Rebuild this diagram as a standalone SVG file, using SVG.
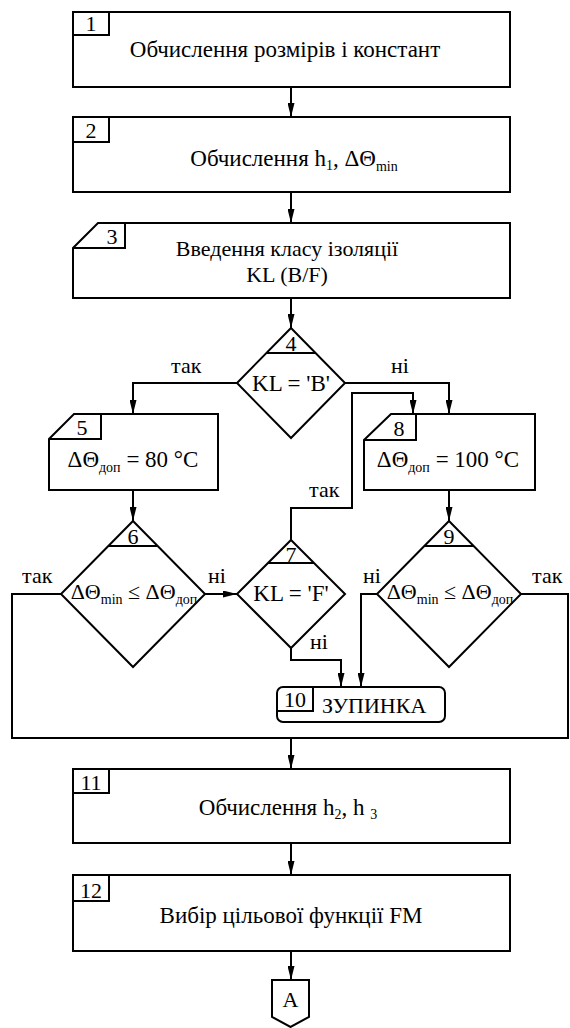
<svg xmlns="http://www.w3.org/2000/svg" width="570" height="1028" viewBox="0 0 570 1028">
<defs>
<style>
.s{fill:#fff;stroke:#000;stroke-width:2}
.n{fill:none;stroke:#000;stroke-width:2}
.c{fill:none;stroke:#000;stroke-width:2}
text{font-family:"Liberation Serif","Times New Roman",serif;fill:#000}
.t{font-size:23px;text-anchor:middle}
.t2{font-size:22px;text-anchor:middle}
.d{font-size:22px;text-anchor:middle}
.num{font-size:22px;text-anchor:middle}
.lb{font-size:22px}
.sub{font-size:14px}
</style>
<marker id="ah" markerWidth="14" markerHeight="7" refX="14" refY="3.5" orient="auto" markerUnits="userSpaceOnUse"><path d="M0,0 L14,3.5 L0,7 Z" fill="#000"/></marker>
</defs>
<rect width="570" height="1028" fill="#fff"/>
<g id="connectors">
<path class="c" d="M291,87 V117" marker-end="url(#ah)"/>
<path class="c" d="M291,192 V223" marker-end="url(#ah)"/>
<path class="c" d="M291,298 V328" marker-end="url(#ah)"/>
<path class="c" d="M237,383 H133 V414" marker-end="url(#ah)"/>
<path class="c" d="M345,383 H449 V414" marker-end="url(#ah)"/>
<path class="c" d="M133,490 V521" marker-end="url(#ah)"/>
<path class="c" d="M449,490 V521" marker-end="url(#ah)"/>
<path class="c" d="M205,594 H237" marker-end="url(#ah)"/>
<path class="c" d="M291,540 V508 H352 V393 H413 V414" marker-end="url(#ah)"/>
<path class="c" d="M291,648 V660 H341 V687" marker-end="url(#ah)"/>
<path class="c" d="M377,594 H361 V687" marker-end="url(#ah)"/>
<path class="c" d="M61,594 H12 V738 H568 V594 H521"/>
<path class="c" d="M291,738 V769" marker-end="url(#ah)"/>
<path class="c" d="M291,843 V875" marker-end="url(#ah)"/>
<path class="c" d="M291,951 V980" marker-end="url(#ah)"/>
<text class="lb" x="171" y="373">так</text>
<text class="lb" x="391" y="373">ні</text>
<text class="lb" x="309" y="497">так</text>
<text class="lb" x="22" y="583">так</text>
<text class="lb" x="208" y="583">ні</text>
<text class="lb" x="363" y="583">ні</text>
<text class="lb" x="532" y="583">так</text>
<text class="lb" x="310" y="649">ні</text>
</g>
<g id="n1">
<rect class="s" x="73" y="12" width="437" height="75"/>
<path class="n" d="M73,35 H109 V12"/>
<text class="num" x="91" y="31">1</text>
<text class="t" x="285" y="57">Обчислення розмірів і констант</text>
</g>
<g id="n2">
<rect class="s" x="73" y="117" width="437" height="75"/>
<path class="n" d="M73,142 H109 V117"/>
<text class="num" x="91" y="138">2</text>
<text class="t" x="294" y="166">Обчислення h<tspan class="sub" dy="4">1</tspan><tspan dy="-4">, ΔΘ</tspan><tspan class="sub" dy="5">min</tspan></text>
</g>
<g id="n3">
<path class="s" d="M73,248 L98,223 H510 V298 H73 Z"/>
<path class="n" d="M73,248 H125 V223"/>
<text class="num" x="112" y="244">3</text>
<text class="t2" x="287" y="256">Введення класу ізоляції</text>
<text class="t2" x="287" y="282">KL (B/F)</text>
</g>
<g id="n4">
<path class="s" d="M291,328 L345,383 L291,438 L237,383 Z"/>
<path class="n" d="M266.5,353 H315.5"/>
<text class="num" x="291" y="351">4</text>
<text class="t" x="291" y="391">KL = 'B'</text>
</g>
<g id="n5">
<path class="s" d="M49,439 L74,414 H218 V490 H49 Z"/>
<path class="n" d="M49,439 H101 V414"/>
<text class="num" x="82" y="435">5</text>
<text class="t" x="133" y="467">ΔΘ<tspan class="sub" dy="5">доп</tspan><tspan dy="-5"> = 80 °C</tspan></text>
</g>
<g id="n8">
<path class="s" d="M364,440 L391,414 H535 V490 H364 Z"/>
<path class="n" d="M364,440 H416 V414"/>
<text class="num" x="399" y="436">8</text>
<text class="t" x="448" y="467">ΔΘ<tspan class="sub" dy="5">доп</tspan><tspan dy="-5"> = 100 °C</tspan></text>
</g>
<g id="n6">
<path class="s" d="M133,521 L205,594 L133,667 L61,594 Z"/>
<path class="n" d="M108.3,546 H157.7"/>
<text class="num" x="133" y="544">6</text>
<text class="d" x="134" y="599">ΔΘ<tspan class="sub" dy="5">min</tspan><tspan dy="-5"> ≤ ΔΘ</tspan><tspan class="sub" dy="5">доп</tspan></text>
</g>
<g id="n7">
<path class="s" d="M291,540 L345,594 L291,648 L237,594 Z"/>
<path class="n" d="M268,563 H314"/>
<text class="num" x="291" y="562">7</text>
<text class="t" x="291" y="601">KL = 'F'</text>
</g>
<g id="n9">
<path class="s" d="M449,521 L521,594 L449,667 L377,594 Z"/>
<path class="n" d="M424.3,546 H473.7"/>
<text class="num" x="449" y="544">9</text>
<text class="d" x="450" y="599">ΔΘ<tspan class="sub" dy="5">min</tspan><tspan dy="-5"> ≤ ΔΘ</tspan><tspan class="sub" dy="5">доп</tspan></text>
</g>
<g id="n10">
<rect class="s" x="277" y="687" width="168" height="35" rx="6"/>
<path class="n" d="M277,711 H313 V687"/>
<text class="num" x="295" y="707">10</text>
<text class="lb" x="322" y="713">ЗУПИНКА</text>
</g>
<g id="n11">
<rect class="s" x="73" y="769" width="437" height="74"/>
<path class="n" d="M73,793 H109 V769"/>
<text class="num" x="91" y="790">11</text>
<text class="t" x="288" y="815">Обчислення h<tspan class="sub" dy="4">2</tspan><tspan dy="-4">, h </tspan><tspan class="sub" dy="4">3</tspan></text>
</g>
<g id="n12">
<rect class="s" x="73" y="875" width="437" height="76"/>
<path class="n" d="M73,901 H109 V875"/>
<text class="num" x="91" y="898">12</text>
<text class="t" x="291" y="923">Вибір цільової функції FM</text>
</g>
<g id="nA">
<path class="s" d="M272,980 H309 V1017 L290.5,1027 L272,1017 Z"/>
<text class="num" x="290.5" y="1007">A</text>
</g>
</svg>
